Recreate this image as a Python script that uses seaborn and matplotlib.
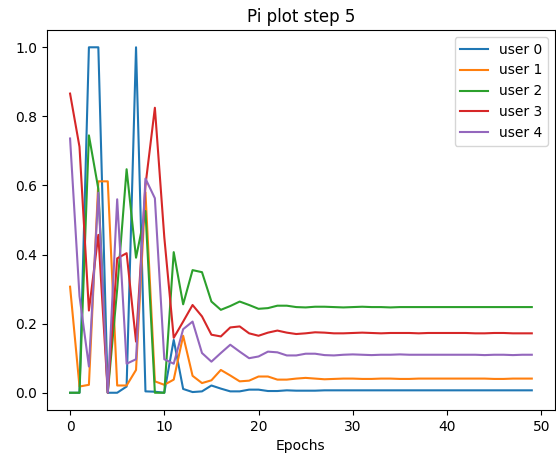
import numpy as np
import pandas as pd
import matplotlib
matplotlib.use("Agg")
import matplotlib.pyplot as plt
import seaborn as sns

epochs = list(range(50))
users = ["user 0", "user 1", "user 2", "user 3", "user 4"]

user0 = [0.0, 0.0, 1.0, 1.0, 0.0, 0.0, 0.018, 1.0, 0.004, 0.003,
         0.0, 0.153, 0.011, 0.002, 0.004, 0.021, 0.012, 0.004, 0.004, 0.009,
         0.009, 0.005, 0.005, 0.007, 0.006, 0.006, 0.006, 0.007, 0.007, 0.007,
         0.007, 0.007, 0.007, 0.007, 0.007, 0.007, 0.007, 0.007, 0.007, 0.007,
         0.007, 0.007, 0.007, 0.007, 0.007, 0.007, 0.007, 0.007, 0.007, 0.007]

user1 = [0.307, 0.018, 0.023, 0.612, 0.612, 0.021, 0.021, 0.066, 0.58, 0.033,
         0.023, 0.038, 0.165, 0.049, 0.028, 0.036, 0.066, 0.05, 0.033, 0.035,
         0.047, 0.047, 0.038, 0.038, 0.041, 0.043, 0.041, 0.039, 0.040, 0.041,
         0.041, 0.040, 0.040, 0.041, 0.041, 0.040, 0.040, 0.041, 0.041, 0.041,
         0.041, 0.041, 0.041, 0.041, 0.041, 0.040, 0.040, 0.041, 0.041, 0.041]

user2 = [0.0, 0.0, 0.745, 0.59, 0.0, 0.30, 0.647, 0.391, 0.526, 0.0,
         0.0, 0.407, 0.256, 0.355, 0.349, 0.264, 0.24, 0.251, 0.264, 0.254,
         0.243, 0.245, 0.252, 0.252, 0.248, 0.247, 0.249, 0.249, 0.248, 0.247,
         0.248, 0.249, 0.248, 0.248, 0.247, 0.248, 0.248, 0.248, 0.248, 0.248,
         0.248, 0.248, 0.248, 0.248, 0.248, 0.248, 0.248, 0.248, 0.248, 0.248]

user3 = [0.866, 0.712, 0.238, 0.457, 0.0, 0.389, 0.404, 0.148, 0.60, 0.825,
         0.45, 0.159, 0.206, 0.254, 0.221, 0.168, 0.163, 0.189, 0.192, 0.172,
         0.165, 0.174, 0.18, 0.174, 0.17, 0.172, 0.175, 0.174, 0.172, 0.172,
         0.173, 0.174, 0.173, 0.172, 0.173, 0.173, 0.173, 0.172, 0.173, 0.173,
         0.173, 0.173, 0.173, 0.172, 0.172, 0.173, 0.173, 0.172, 0.172, 0.172]

user4 = [0.736, 0.28, 0.076, 0.579, 0.0, 0.56, 0.084, 0.097, 0.62, 0.563,
         0.097, 0.084, 0.184, 0.206, 0.115, 0.09, 0.115, 0.139, 0.119, 0.1,
         0.105, 0.119, 0.117, 0.108, 0.108, 0.113, 0.113, 0.109, 0.108, 0.110,
         0.111, 0.110, 0.109, 0.110, 0.110, 0.111, 0.110, 0.110, 0.110, 0.110,
         0.110, 0.110, 0.110, 0.110, 0.109, 0.110, 0.110, 0.109, 0.110, 0.110]

series = [user0, user1, user2, user3, user4]

df = pd.DataFrame({
    "epoch": epochs * len(users),
    "value": [v for s in series for v in s],
    "user": [u for u in users for _ in epochs],
})

fig = plt.figure(figsize=(5.56, 4.57), dpi=100)
ax = fig.add_axes([0.0845, 0.1028, 0.9135, 0.8315])
palette = sns.color_palette("tab10", len(users))
sns.lineplot(data=df, x="epoch", y="value", hue="user", palette=palette,
             linewidth=1.5, ax=ax)
ax.legend(loc="upper right", title=None)
ax.set_title("Pi plot step 5")
ax.set_xlabel("Epochs")
ax.set_ylabel("")
fig.savefig("out.png", dpi=100)
